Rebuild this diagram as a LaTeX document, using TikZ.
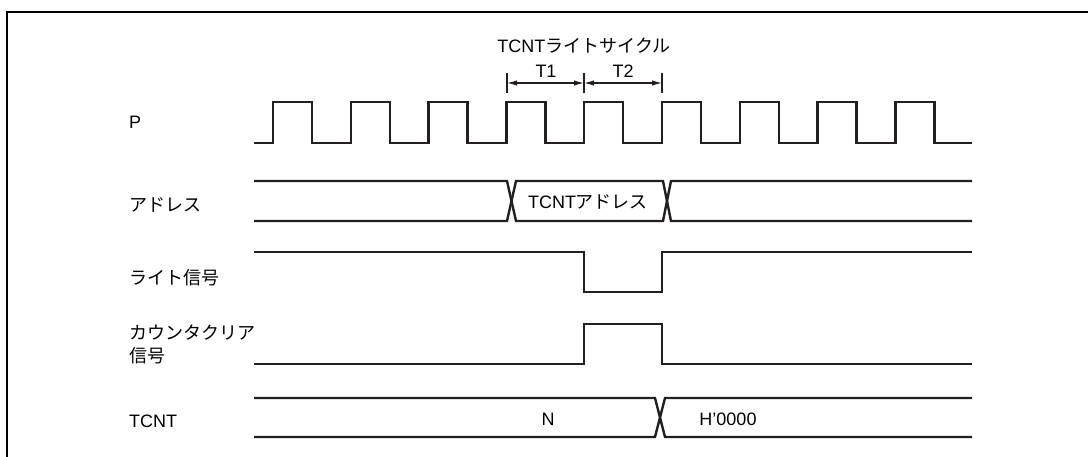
\documentclass[tikz,border=0pt]{standalone}
\usepackage{fontspec}
\setmainfont{Liberation Sans}
\newfontfamily\jp{Noto Sans CJK JP}
\usetikzlibrary{arrows.meta}
\definecolor{ink}{RGB}{35,31,32}
\tikzset{
  wave/.style={draw=ink, line width=2.4pt, line join=miter},
  frame/.style={draw=black, line width=2.6pt},
  sig/.style={anchor=west, inner sep=0pt, font=\fontsize{18}{23}\selectfont, align=left},
  busval/.style={inner sep=0pt, font=\fontsize{18}{23}\selectfont},
  dimline/.style={draw=ink, line width=1.3pt, {Latex[length=10pt,width=5.5pt]}-{Latex[length=10pt,width=5.5pt]}},
  bartick/.style={draw=ink, line width=1.3pt},
}
\begin{document}
\begin{tikzpicture}[x=1pt, y=-1pt]
\clip (0,0) rectangle (1088,456);
\draw[frame] (7,470) -- (7,12) -- (1100,12);

\node[busval] (cyc) at (584,46) {TCNT{\jp ライトサイクル}};
\node[busval] (t1) at (546,71) {T1};
\node[busval] (t2) at (623,71) {T2};
\coordinate (ta) at (507,83);
\coordinate (tb) at (584,83);
\coordinate (tc) at (662,83);
\foreach \c in {ta,tb,tc}
  \draw[bartick] ([yshift=-10pt]\c) -- ([yshift=10pt]\c);
\draw[dimline] (ta) -- (tb);
\draw[dimline] (tb) -- (tc);

\node[sig] (lp) at (129,122) {P};
\node[sig] (ladr) at (129,205) {\jp アドレス};
\node[sig] (lwr) at (129,278) {\jp ライト信号};
\node[sig] (lclr) at (129,344) {\jp カウンタクリア\\\jp 信号};
\node[sig] (lcnt) at (129,421) {TCNT};

\draw[wave] (254,143) \foreach \i in {0,...,8} {
  -- ({273+77.8*\i},143) -- ++(0,-41) -- ++(39,0) -- ++(0,41)} -- (972,143);

\draw[wave] (254,181) -- (507,181) -- (516,221) -- (663,221) -- (671,181) -- (972,181);
\draw[wave] (254,221) -- (507,221) -- (516,181) -- (663,181) -- (671,221) -- (972,221);
\node[busval] (adrv) at (588,202) {TCNT{\jp アドレス}};

\draw[wave] (254,252) -- (584,252) -- (584,292) -- (662,292) -- (662,252) -- (972,252);

\draw[wave] (254,364) -- (584,364) -- (584,324) -- (662,324) -- (662,364) -- (972,364);

\draw[wave] (254,398) -- (655,398) -- (665,437) -- (972,437);
\draw[wave] (254,437) -- (655,437) -- (665,398) -- (972,398);
\node[busval] (cntn) at (548,419) {N};
\node[busval] (cnth) at (728,419) {H'0000};
\end{tikzpicture}
\end{document}
